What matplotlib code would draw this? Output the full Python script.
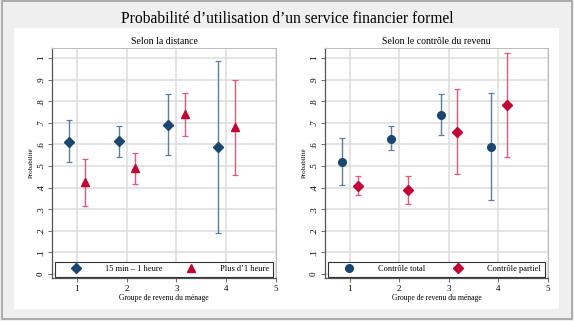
import matplotlib
matplotlib.use('Agg')
import matplotlib.pyplot as plt
from matplotlib.patches import Rectangle

plt.rcParams['font.family'] = ['Liberation Serif', 'DejaVu Serif']

# Groupe de revenu du ménage
groups = [1, 2, 3, 4]

# Selon la distance
dist_near = [0.612, 0.614, 0.691, 0.588]
dist_near_lo = [0.517, 0.543, 0.549, 0.190]
dist_near_hi = [0.711, 0.684, 0.833, 0.988]
dist_far = [0.424, 0.490, 0.741, 0.682]
dist_far_lo = [0.316, 0.417, 0.637, 0.458]
dist_far_hi = [0.531, 0.562, 0.840, 0.898]

# Selon le contrôle du revenu
ctrl_total = [0.520, 0.627, 0.736, 0.589]
ctrl_total_lo = [0.411, 0.574, 0.645, 0.344]
ctrl_total_hi = [0.631, 0.684, 0.832, 0.840]
ctrl_part = [0.407, 0.387, 0.659, 0.781]
ctrl_part_lo = [0.364, 0.325, 0.461, 0.543]
ctrl_part_hi = [0.455, 0.454, 0.855, 1.022]

yticks = [0, .1, .2, .3, .4, .5, .6, .7, .8, .9, 1]
yticklabels = ['0', '.1', '.2', '.3', '.4', '.5', '.6', '.7', '.8', '.9', '1']

navy = '#1a476f'
navy_bar = '#5a7ea4'
red = '#c10534'
red_bar = '#e2577a'


def draw_panel(ax, title, s1, s2, labels, markers):
    offs = [-0.16, 0.17]
    for (y, lo, hi), off, mk, mc, bc, lab in zip(
            [s1, s2], offs, markers, [navy, red], [navy_bar, red_bar], labels):
        x = [g + off for g in groups]
        err = [[v - l for v, l in zip(y, lo)], [h - v for v, h in zip(y, hi)]]
        ax.errorbar(x, y, yerr=err, fmt='none', ecolor=bc, elinewidth=1.0,
                    capsize=2.2, capthick=0.9, zorder=3)
        ms = 6 if mk == '^' else 5.5
        ax.plot(x, y, linestyle='none', marker=mk, color=mc, markersize=ms,
                zorder=4, label=lab)
    ax.set_xlim(0.5, 5)
    ax.set_ylim(-0.019, 1.047)
    ax.set_xticks([1, 2, 3, 4, 5])
    ax.set_yticks(yticks)
    ax.set_yticklabels(yticklabels, rotation=90, va='center')
    ax.tick_params(axis='both', labelsize=6.5, length=3, width=0.6,
                   color='#555555', pad=2)
    ax.grid(True, color='#dddddd', linewidth=1.1)
    ax.set_axisbelow(True)
    for side in ['left', 'bottom']:
        ax.spines[side].set_color('#555555')
        ax.spines[side].set_linewidth(0.9)
    for side in ['top', 'right']:
        ax.spines[side].set_color('#bbbbbb')
        ax.spines[side].set_linewidth(0.7)
    ax.set_title(title, fontsize=7, pad=3)
    ax.set_xlabel('Groupe de revenu du ménage', fontsize=5.5, labelpad=1)
    ax.set_ylabel('Probabilité', fontsize=5, labelpad=2)
    leg = ax.legend(loc='lower left', bbox_to_anchor=(0.013, 0.004, 0.974, 0.072),
                    mode='expand', ncol=2, fontsize=6, frameon=True,
                    fancybox=False, edgecolor='#333333', framealpha=1,
                    handlelength=4.2, handletextpad=1.4, borderpad=0.45,
                    borderaxespad=0, markerscale=1.0)
    leg.get_frame().set_linewidth(0.8)
    leg.set_zorder(5)


fig = plt.figure(figsize=(5.74, 3.21), dpi=100, facecolor='#efefef')

# outer frame and white plot area, kept behind the axes
fig.patches.append(Rectangle((0.003, 0.006), 0.993, 0.99, transform=fig.transFigure,
                             facecolor='none', edgecolor='#a0a0a0', linewidth=1.2,
                             zorder=-2))
fig.patches.append(Rectangle((14 / 574, 1 - 309 / 321), 545 / 574, 281 / 321,
                             transform=fig.transFigure, facecolor='white',
                             edgecolor='none', zorder=-1))

fig.text(0.5, 1 - 19 / 321, 'Probabilité d\u2019utilisation d\u2019un service financier formel',
         ha='center', va='center', fontsize=11.2)

ax1 = fig.add_axes([52 / 574, 1 - 278 / 321, 224 / 574, 230 / 321])
ax2 = fig.add_axes([325 / 574, 1 - 278 / 321, 223 / 574, 230 / 321])

draw_panel(ax1, 'Selon la distance',
           (dist_near, dist_near_lo, dist_near_hi),
           (dist_far, dist_far_lo, dist_far_hi),
           ['15 min \u2013 1 heure', 'Plus d\u20191 heure'], ['D', '^'])
draw_panel(ax2, 'Selon le contrôle du revenu',
           (ctrl_total, ctrl_total_lo, ctrl_total_hi),
           (ctrl_part, ctrl_part_lo, ctrl_part_hi),
           ['Contrôle total', 'Contrôle partiel'], ['o', 'D'])

fig.savefig('out.png', dpi=100, facecolor=fig.get_facecolor())
